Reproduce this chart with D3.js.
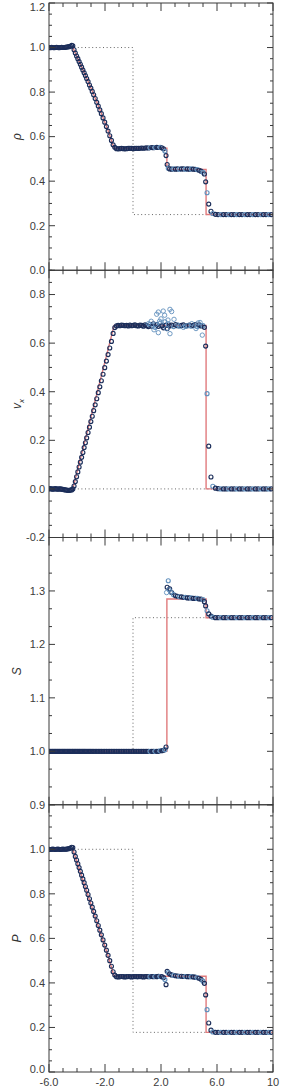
<!DOCTYPE html>
<html>
<head>
<meta charset="utf-8">
<script src="https://cdn.jsdelivr.net/npm/d3@7"></script>
<style>
  body { margin: 0; background: #fff; }
  svg { display: block; }
  text { font-family: "Liberation Sans", Arial, sans-serif; }
</style>
</head>
<body>
<svg id="chart"></svg>
<script>
// particle positions (shared by all four panels)
const particleX = [
  -6.00,-5.91,-5.82,-5.73,-5.64,-5.55,-5.46,-5.37,-5.28,-5.19,-5.10,-5.01,-4.92,-4.83,-4.74,-4.65,-4.56,-4.47,-4.38,
  -4.30,-4.21,-4.12,-4.03,-3.94,-3.85,-3.76,-3.67,-3.58,-3.49,-3.40,-3.31,-3.21,-3.11,-3.01,-2.91,-2.81,-2.70,-2.59,-2.48,-2.37,-2.26,-2.14,-2.02,-1.90,-1.78,-1.66,-1.54,-1.42,-1.30,
  -1.18,-1.06,-0.94,-0.82,-0.70,-0.58,-0.46,-0.34,-0.22,-0.10,0.02,0.14,0.26,0.38,0.50,0.62,0.74,0.86,0.98,1.10,1.22,1.34,1.46,1.58,1.70,1.82,1.94,2.06,2.18,
  2.28,2.36,2.44,2.52,
  2.62,2.76,2.90,3.04,3.18,3.32,3.46,3.60,3.74,3.88,4.02,4.16,4.30,4.44,4.58,4.72,4.86,5.00,
  5.10,5.19,5.29,5.41,5.57,
  5.70,5.89,6.08,6.27,6.46,6.65,6.84,7.03,7.22,7.41,7.60,7.79,7.98,8.17,8.36,8.55,8.74,8.93,9.12,9.31,9.50,9.69,9.88
];

const rhoVals = [
  1.000,0.999,1.001,1.000,0.999,1.000,1.001,1.000,0.999,1.000,1.001,1.000,1.000,1.001,1.002,1.003,1.004,1.006,1.010,
  1.008,0.990,0.975,0.962,0.950,0.937,0.925,0.912,0.899,0.887,0.874,0.861,0.847,0.832,0.818,0.803,0.788,0.771,0.754,0.737,0.720,0.703,0.684,0.665,0.645,0.625,0.604,0.583,0.563,0.552,
  0.546,0.545,0.546,0.547,0.546,0.545,0.546,0.547,0.548,0.547,0.546,0.547,0.548,0.547,0.548,0.549,0.548,0.549,0.550,0.549,0.550,0.551,0.550,0.551,0.552,0.551,0.552,0.550,0.545,
  0.535,0.515,0.475,0.458,
  0.455,0.454,0.455,0.454,0.455,0.454,0.455,0.455,0.454,0.455,0.454,0.455,0.454,0.453,0.452,0.449,0.445,0.440,
  0.432,0.397,0.348,0.297,0.265,
  0.255,0.251,0.250,0.250,0.250,0.250,0.250,0.250,0.250,0.250,0.250,0.250,0.250,0.250,0.250,0.250,0.250,0.250,0.250,0.250,0.250,0.250,0.250
];

const vxVals = [
  0.000,0.001,0.000,-0.001,0.000,0.001,0.000,-0.001,0.000,0.000,-0.001,-0.002,-0.003,-0.004,-0.005,-0.006,-0.006,-0.005,-0.004,
  0.000,0.012,0.030,0.050,0.070,0.090,0.110,0.130,0.150,0.170,0.190,0.210,0.232,0.254,0.277,0.299,0.322,0.346,0.371,0.396,0.420,0.445,0.472,0.499,0.526,0.553,0.580,0.607,0.640,0.664,
  0.671,0.673,0.672,0.674,0.673,0.672,0.673,0.671,0.674,0.672,0.673,0.675,0.672,0.671,0.674,0.673,0.670,0.675,0.672,0.668,0.677,0.670,0.680,0.665,0.676,0.669,0.682,0.671,0.663,
  0.688,0.674,0.660,0.679,
  0.671,0.674,0.668,0.676,0.672,0.670,0.673,0.675,0.669,0.672,0.674,0.670,0.673,0.676,0.668,0.675,0.671,0.672,
  0.665,0.588,0.392,0.176,0.049,
  0.011,0.003,0.001,0.000,0.000,0.000,0.000,0.000,0.000,0.000,0.000,0.000,0.000,0.000,0.000,0.000,0.000,0.000,0.000,0.000,0.000,0.000,0.000
];

const sVals = [
  1.000,1.000,1.000,1.000,1.000,1.000,1.000,1.000,1.000,1.000,1.000,1.000,1.000,1.000,1.000,1.000,1.000,1.000,1.000,
  1.000,1.000,1.000,1.000,1.000,1.000,1.000,1.000,1.000,1.000,1.000,1.000,1.000,1.000,1.000,1.000,1.000,1.000,1.000,1.000,1.000,1.000,1.000,1.000,1.000,1.000,1.000,1.000,1.000,1.000,
  1.000,1.000,1.000,1.000,1.000,1.000,1.000,1.000,1.000,1.000,1.000,1.000,1.000,1.000,1.000,1.000,1.000,1.000,1.000,1.000,1.000,1.000,1.000,1.000,1.000,1.000,1.001,1.001,1.002,
  1.003,1.008,1.307,1.319,
  1.304,1.297,1.293,1.291,1.290,1.289,1.289,1.288,1.288,1.287,1.287,1.287,1.286,1.286,1.286,1.285,1.285,1.284,
  1.280,1.272,1.263,1.257,1.253,
  1.251,1.250,1.250,1.250,1.250,1.250,1.250,1.250,1.250,1.250,1.250,1.250,1.250,1.250,1.250,1.250,1.250,1.250,1.250,1.250,1.250,1.250,1.250
];

const pVals = [
  1.000,0.999,1.000,1.001,1.000,0.999,1.000,1.001,1.000,0.999,1.000,1.001,1.000,1.000,1.001,1.002,1.003,1.005,1.009,
  1.008,0.988,0.968,0.952,0.935,0.918,0.901,0.884,0.867,0.850,0.833,0.816,0.797,0.778,0.759,0.740,0.721,0.700,0.679,0.658,0.637,0.616,0.593,0.570,0.547,0.524,0.500,0.475,0.450,0.435,
  0.428,0.427,0.428,0.429,0.428,0.427,0.428,0.429,0.428,0.427,0.428,0.429,0.428,0.428,0.429,0.428,0.427,0.428,0.429,0.428,0.428,0.429,0.428,0.429,0.428,0.430,0.429,0.428,0.424,
  0.415,0.392,0.452,0.446,
  0.440,0.436,0.434,0.432,0.431,0.430,0.430,0.429,0.429,0.428,0.428,0.428,0.427,0.426,0.424,0.421,0.416,0.408,
  0.398,0.346,0.280,0.220,0.188,
  0.180,0.178,0.178,0.178,0.178,0.178,0.178,0.178,0.178,0.178,0.178,0.178,0.178,0.178,0.178,0.178,0.178,0.178,0.178,0.178,0.178,0.178,0.178
];

// extra scattered particles (velocity noise behind the contact)
const vxScatter = [
  [1.10,0.680],[1.30,0.690],[1.50,0.655],[1.60,0.676],[1.69,0.719],[1.81,0.728],[1.81,0.643],[1.90,0.690],
  [2.00,0.700],[2.16,0.732],[2.26,0.715],[2.40,0.660],[2.50,0.695],[2.64,0.739],[2.64,0.639],[2.76,0.730],
  [2.93,0.698],[3.20,0.675],[3.60,0.665],[3.90,0.672],[4.20,0.680],[4.50,0.660],[4.65,0.683],[4.79,0.685],[4.95,0.633]
];
const sScatter = [[2.40,1.297],[2.58,1.302],[2.70,1.298]];

// analytic solution (red) and initial state (dotted)
const rhoExact = [[-6,1],[-4.3,1],[-3.8,0.931],[-3.3,0.861],[-2.8,0.789],[-2.3,0.711],[-1.8,0.631],[-1.35,0.548],[2.42,0.548],[2.42,0.453],[5.22,0.453],[5.22,0.25],[10,0.25]];
const vxExact = [[-6,0],[-4.3,0],[-1.35,0.673],[5.22,0.673],[5.22,0],[10,0]];
const sExact = [[-6,1],[2.42,1],[2.42,1.285],[5.22,1.285],[5.22,1.25],[10,1.25]];
const pExact = [[-6,1],[-4.3,1],[-3.8,0.905],[-3.3,0.81],[-2.8,0.715],[-2.3,0.62],[-1.8,0.525],[-1.35,0.43],[5.22,0.43],[5.22,0.178],[10,0.178]];

const rhoInit = [[-6,1],[0,1],[0,0.25],[10,0.25]];
const vxInit = [[-6,0],[10,0]];
const sInit = [[-6,1],[0,1],[0,1.25],[10,1.25]];
const pInit = [[-6,1],[0,1],[0,0.178],[10,0.178]];

// axes
const xDomain = [-6, 10];
const xMajor = [-6, -2, 2, 6, 10];
const xLabels = ["-6.0", "-2.0", "2.0", "6.0", "10"];
const rhoTicks = [0.0, 0.2, 0.4, 0.6, 0.8, 1.0, 1.2];
const vxTicks = [-0.2, 0.0, 0.2, 0.4, 0.6, 0.8];
const sTicks = [0.9, 1.0, 1.1, 1.2, 1.3];
const pTicks = [0.0, 0.2, 0.4, 0.6, 0.8, 1.0];

const width = 300, height = 1090;
const left = 49, right = 273, top0 = 3, bottom = 1072;
const panelH = (bottom - top0) / 4;

const panels = [
  { id: "rho", title: "ρ", domain: [0, 1.2], ticks: rhoTicks, minor: 0.05, vals: rhoVals, exact: rhoExact, init: rhoInit, scatter: [] },
  { id: "vx", title: "v", sub: "x", domain: [-0.2, 0.9], ticks: vxTicks, minor: 0.05, vals: vxVals, exact: vxExact, init: vxInit, scatter: vxScatter },
  { id: "s", title: "S", domain: [0.9, 1.4], ticks: sTicks, minor: 0.1 / 3, vals: sVals, exact: sExact, init: sInit, scatter: sScatter },
  { id: "p", title: "P", domain: [0, 1.2], ticks: pTicks, minor: 0.05, vals: pVals, exact: pExact, init: pInit, scatter: [] }
];

const svg = d3.select("#chart").attr("width", width).attr("height", height);
const x = d3.scaleLinear().domain(xDomain).range([left, right]);
const xMinor = d3.range(-6, 10.01, 1);

const navy = "#1c2e5a", light = "#6391bd";
const axisColor = "#3a3a3a";

panels.forEach((p, i) => {
  const y0 = top0 + i * panelH, y1 = y0 + panelH;
  const y = d3.scaleLinear().domain(p.domain).range([y1, y0]);
  const g = svg.append("g");

  g.append("clipPath").attr("id", "clip-" + p.id)
    .append("rect").attr("x", left).attr("y", y0).attr("width", right - left).attr("height", panelH);

  const plot = g.append("g").attr("clip-path", `url(#clip-${p.id})`);
  const line = d3.line().x(d => x(d[0])).y(d => y(d[1]));

  plot.append("path").datum(p.init)
    .attr("d", line).attr("fill", "none")
    .attr("stroke", "#666").attr("stroke-width", 1).attr("stroke-dasharray", "1,2.6");

  plot.append("path").datum(p.exact)
    .attr("d", line).attr("fill", "none")
    .attr("stroke", "#e07a7c").attr("stroke-width", 1.4);

  const pts = particleX.map((xv, k) => [xv, p.vals[k]]);
  plot.selectAll("circle.main").data(pts).enter()
    .append("circle").attr("class", "main")
    .attr("cx", d => x(d[0])).attr("cy", d => y(d[1])).attr("r", 2)
    .attr("fill", "none")
    .attr("stroke", (d, k) => (d[0] > 1 && k % 3 === 0) ? light : navy)
    .attr("stroke-width", 1.15);

  plot.selectAll("circle.extra").data(p.scatter).enter()
    .append("circle").attr("class", "extra")
    .attr("cx", d => x(d[0])).attr("cy", d => y(d[1])).attr("r", 2.2)
    .attr("fill", "none").attr("stroke", light).attr("stroke-width", 0.9);

  // frame
  g.append("rect").attr("x", left).attr("y", y0).attr("width", right - left).attr("height", panelH)
    .attr("fill", "none").attr("stroke", axisColor).attr("stroke-width", 1);

  // x ticks top and bottom, inward
  xMinor.forEach(v => {
    const len = xMajor.includes(v) ? 8 : 4;
    g.append("line").attr("x1", x(v)).attr("x2", x(v)).attr("y1", y1).attr("y2", y1 - len)
      .attr("stroke", axisColor);
    g.append("line").attr("x1", x(v)).attr("x2", x(v)).attr("y1", y0).attr("y2", y0 + len)
      .attr("stroke", axisColor);
  });

  // y ticks left and right, inward
  const nMinor = Math.round((p.domain[1] - p.domain[0]) / p.minor);
  d3.range(nMinor + 1).forEach(k => {
    const v = p.domain[0] + k * p.minor;
    const isMajor = p.ticks.some(t => Math.abs(t - v) < 1e-6) || Math.abs(((v - p.domain[0]) / (p.minor * (p.minor < 0.04 ? 3 : 4))) % 1) < 1e-6;
    const len = isMajor ? 6 : 3;
    g.append("line").attr("x1", left).attr("x2", left + len).attr("y1", y(v)).attr("y2", y(v)).attr("stroke", axisColor);
    g.append("line").attr("x1", right).attr("x2", right - len).attr("y1", y(v)).attr("y2", y(v)).attr("stroke", axisColor);
  });

  g.selectAll("text.tick").data(p.ticks).enter()
    .append("text").attr("class", "tick")
    .attr("x", left - 4).attr("y", d => Math.min(Math.max(y(d), 7), bottom - 3)).attr("dy", "0.35em")
    .attr("text-anchor", "end").attr("font-size", 11).attr("fill", "#3c3c3c")
    .text(d => d3.format(".1f")(d).replace("−", "-"));

  const t = g.append("text")
    .attr("transform", `translate(21,${(y0 + y1) / 2}) rotate(-90)`)
    .attr("text-anchor", "middle")
    .attr("font-family", "'Liberation Serif', 'DejaVu Serif', serif")
    .attr("font-style", "italic").attr("font-size", 12).attr("fill", "#333")
    .text(p.title);
  if (p.sub) {
    t.append("tspan").attr("font-size", 8).attr("dy", 3).text(p.sub);
  }
});

svg.selectAll("text.xlab").data(xMajor).enter()
  .append("text").attr("class", "xlab")
  .attr("x", d => x(d)).attr("y", bottom + 14)
  .attr("text-anchor", "middle").attr("font-size", 11).attr("fill", "#3c3c3c")
  .text((d, i) => xLabels[i]);
</script>
</body>
</html>
